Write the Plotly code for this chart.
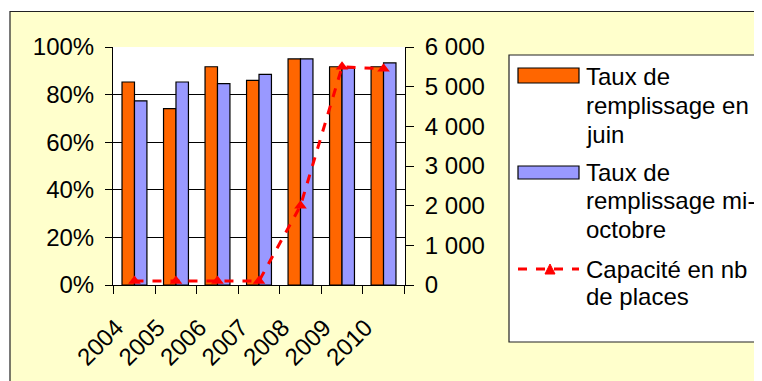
import plotly.graph_objects as go

# --- données ---
annees = ['2004', '2005', '2006', '2007', '2008', '2009', '2010']
taux_juin = [85.3, 74.1, 91.7, 86.0, 95.0, 91.7, 91.7]
taux_octobre = [77.4, 85.3, 84.6, 88.5, 95.0, 91.2, 93.3]
capacite = [100, 100, 100, 100, 2000, 5500, 5450]

noms = [
    ['Taux de', 'remplissage en', 'juin'],
    ['Taux de', 'remplissage mi-', 'octobre'],
    ['Capacité en nb', 'de places'],
]

ORANGE = '#FF6600'
BLEU = '#9999FF'
ROUGE = '#FF0000'
JAUNE = '#FFFFCC'
FONT = 'Liberation Sans, Arial, sans-serif'

W, H = 762, 381
OFF = 8  # marge du <body> de la page
L, R, T, B = 113, 405, 47, 285  # zone de tracé, en pixels de la page


def px(x):
    return (x - L) / (R - L)


def py(y):
    return (B - y) / (B - T)


fig = go.Figure()
fig.add_trace(go.Bar(x=annees, y=taux_juin, marker=dict(color=ORANGE, line=dict(color='black', width=1.2)),
                     showlegend=False))
fig.add_trace(go.Bar(x=annees, y=taux_octobre, marker=dict(color=BLEU, line=dict(color='black', width=1.2)),
                     showlegend=False))
fig.add_trace(go.Scatter(x=annees, y=capacite, yaxis='y2', mode='lines+markers',
                         line=dict(color=ROUGE, width=3, dash='dash'),
                         marker=dict(symbol='triangle-up', size=11, color=ROUGE),
                         showlegend=False))

shapes = [
    # fond jaune du graphique
    dict(type='rect', xref='paper', yref='paper', x0=px(10), x1=px(800), y0=py(420), y1=py(11.5),
         fillcolor=JAUNE, line=dict(color='#222', width=1.2), layer='below'),
    # fond blanc de la zone de tracé
    dict(type='rect', xref='paper', yref='paper', x0=0, x1=1, y0=0, y1=1,
         fillcolor='white', line=dict(width=0), layer='below'),
    # cadre de la légende
    dict(type='rect', xref='paper', yref='paper', x0=px(509), x1=px(800), y0=py(342), y1=py(55),
         fillcolor='white', line=dict(color='#222', width=1.2), layer='below'),
    # symboles
    dict(type='rect', xref='paper', yref='paper', x0=px(518), x1=px(579), y0=py(83), y1=py(68),
         fillcolor=ORANGE, line=dict(color='black', width=1.2)),
    dict(type='rect', xref='paper', yref='paper', x0=px(518), x1=px(579), y0=py(179), y1=py(166),
         fillcolor=BLEU, line=dict(color='black', width=1.2)),
    dict(type='line', xref='paper', yref='paper', x0=px(518), x1=px(579), y0=py(269), y1=py(269),
         line=dict(color=ROUGE, width=3, dash='dash')),
    dict(type='path', xref='paper', yref='paper',
         path='M %f,%f L %f,%f L %f,%f Z' % (px(545), py(274), px(555), py(274), px(550), py(264)),
         fillcolor=ROUGE, line=dict(color=ROUGE, width=1)),
]

annotations = []
lignes_base = [[84, 113, 142], [180, 209, 238], [277, 304]]
for textes, bases in zip(noms, lignes_base):
    for t, b in zip(textes, bases):
        annotations.append(dict(text=t, xref='paper', yref='paper', x=px(584), y=py(b - 8),
                                xanchor='left', yanchor='middle', showarrow=False,
                                font=dict(size=24, color='black', family=FONT)))

fig.update_layout(
    width=W, height=H,
    margin=dict(l=L - OFF, r=W - (R - OFF), t=T - OFF, b=H - (B - OFF), pad=0),
    paper_bgcolor='white', plot_bgcolor='white',
    font=dict(family=FONT, size=24, color='black'),
    barmode='group', bargap=0.4, bargroupgap=0,
    separators='. ',
    shapes=shapes, annotations=annotations,
    xaxis=dict(type='category', tickson='boundaries', ticks='outside', ticklen=8, tickcolor='black',
               showline=True, linecolor='black', linewidth=1, showgrid=False, tickangle=-45,
               ticklabelstandoff=18, ticklabelshift=-18),
    yaxis=dict(range=[0, 100], dtick=20, ticksuffix='%', ticks='outside', ticklen=7, tickcolor='black',
               showline=True, linecolor='black', linewidth=1, showgrid=True, gridcolor='black',
               gridwidth=1, zeroline=False, ticklabelstandoff=6),
    yaxis2=dict(range=[0, 6000], dtick=1000, tickformat=',d', overlaying='y', side='right',
                ticks='outside', ticklen=8, tickcolor='black', showline=True, linecolor='black',
                linewidth=1, showgrid=False, zeroline=False, ticklabelstandoff=6),
)

fig.write_html('out.html')
